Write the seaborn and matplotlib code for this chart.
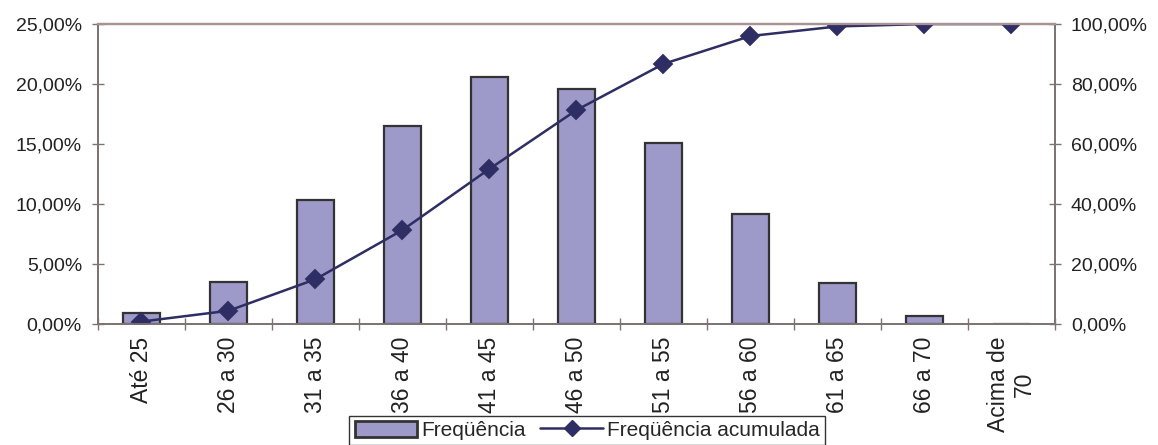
import numpy as np
import pandas as pd
import seaborn as sns
import matplotlib
matplotlib.use("Agg")
import matplotlib.pyplot as plt
from matplotlib.ticker import FuncFormatter, MultipleLocator
from matplotlib.patches import Patch
from matplotlib.lines import Line2D

# Age classes and their relative frequencies (%)
categories = ["Até 25", "26 a 30", "31 a 35", "36 a 40", "41 a 45", "46 a 50",
              "51 a 55", "56 a 60", "61 a 65", "66 a 70", "Acima de\n70"]
frequencia = [0.9, 3.5, 10.3, 16.5, 20.6, 19.6, 15.1, 9.2, 3.4, 0.7, 0.0]
frequencia_acumulada = [0.8, 4.4, 14.9, 31.3, 51.7, 71.3, 86.7, 96.0, 99.2, 100.0, 100.0]

bar_color = "#9D99C9"
edge_color = "#333333"
line_color = "#2E2E64"
axis_color = "#7D7373"
text_color = "#222222"

sns.set_theme(style="white")
plt.rcParams["font.family"] = ["Liberation Sans", "DejaVu Sans"]

df = pd.DataFrame({"faixa": categories, "freq": frequencia, "acum": frequencia_acumulada})

fig = plt.figure(figsize=(11.58, 4.45), dpi=100)
ax = fig.add_axes([0.0846, 0.272, 0.8264, 0.674])

sns.barplot(data=df, x="faixa", y="freq", ax=ax, color=bar_color, width=0.42,
            edgecolor=edge_color, linewidth=1.6, saturation=1)

ax2 = ax.twinx()
sns.pointplot(data=df, x="faixa", y="acum", ax=ax2, color=line_color, markers="D",
              markersize=9, linewidth=1.8)

ax.set_xlim(-0.5, len(categories) - 0.5)
ax2.set_xlim(-0.5, len(categories) - 0.5)
ax.set_ylim(0, 25)
ax2.set_ylim(0, 100)
ax.yaxis.set_major_locator(MultipleLocator(5))
ax2.yaxis.set_major_locator(MultipleLocator(20))

pct = FuncFormatter(lambda v, pos: f"{v:.2f}".replace(".", ",") + "%")
ax.yaxis.set_major_formatter(pct)
ax2.yaxis.set_major_formatter(pct)

ax.set_xlabel("")
ax.set_ylabel("")
ax2.set_xlabel("")
ax2.set_ylabel("")

# Category boundaries as x ticks, labels at bar centres
ax.set_xticks(np.arange(len(categories)))
ax.set_xticklabels(categories, rotation=90, fontsize=16.5, color=text_color,
                   va="top", ha="center", multialignment="center")
ax.set_xticks(np.arange(len(categories) + 1) - 0.5, minor=True)
ax.tick_params(axis="x", which="major", length=0, pad=9)
ax.tick_params(axis="x", which="minor", direction="inout", length=9, width=1,
               color=axis_color, bottom=True)

ax.tick_params(axis="y", direction="inout", length=9, width=1, color=axis_color,
               labelsize=14, labelcolor=text_color, pad=7, left=True)
ax2.tick_params(axis="y", direction="inout", length=9, width=1, color=axis_color,
                labelsize=14, labelcolor=text_color, pad=7, right=True)

for a in (ax, ax2):
    for side in ("left", "right", "bottom"):
        a.spines[side].set_color(axis_color)
        a.spines[side].set_linewidth(1.3)
    a.spines["top"].set_color("#A69494")
    a.spines["top"].set_linewidth(1.6)

ax2.set_zorder(ax.get_zorder() + 1)
ax2.patch.set_visible(False)

handles = [
    Patch(facecolor=bar_color, edgecolor=edge_color, linewidth=2.0),
    Line2D([0], [0], color=line_color, marker="D", markersize=8, linewidth=1.8),
]
leg = fig.legend(handles, ["Freqüência", "Freqüência acumulada"], loc="upper center",
                 bbox_to_anchor=(0.507, 0.066), ncol=2, frameon=True, fancybox=False,
                 fontsize=15, handlelength=3.0, handleheight=0.8, handletextpad=0.2,
                 columnspacing=0.7, borderpad=0.25, borderaxespad=0)
leg.get_frame().set_edgecolor("#000000")
leg.get_frame().set_linewidth(1.0)

fig.savefig("out.png", dpi=100)
